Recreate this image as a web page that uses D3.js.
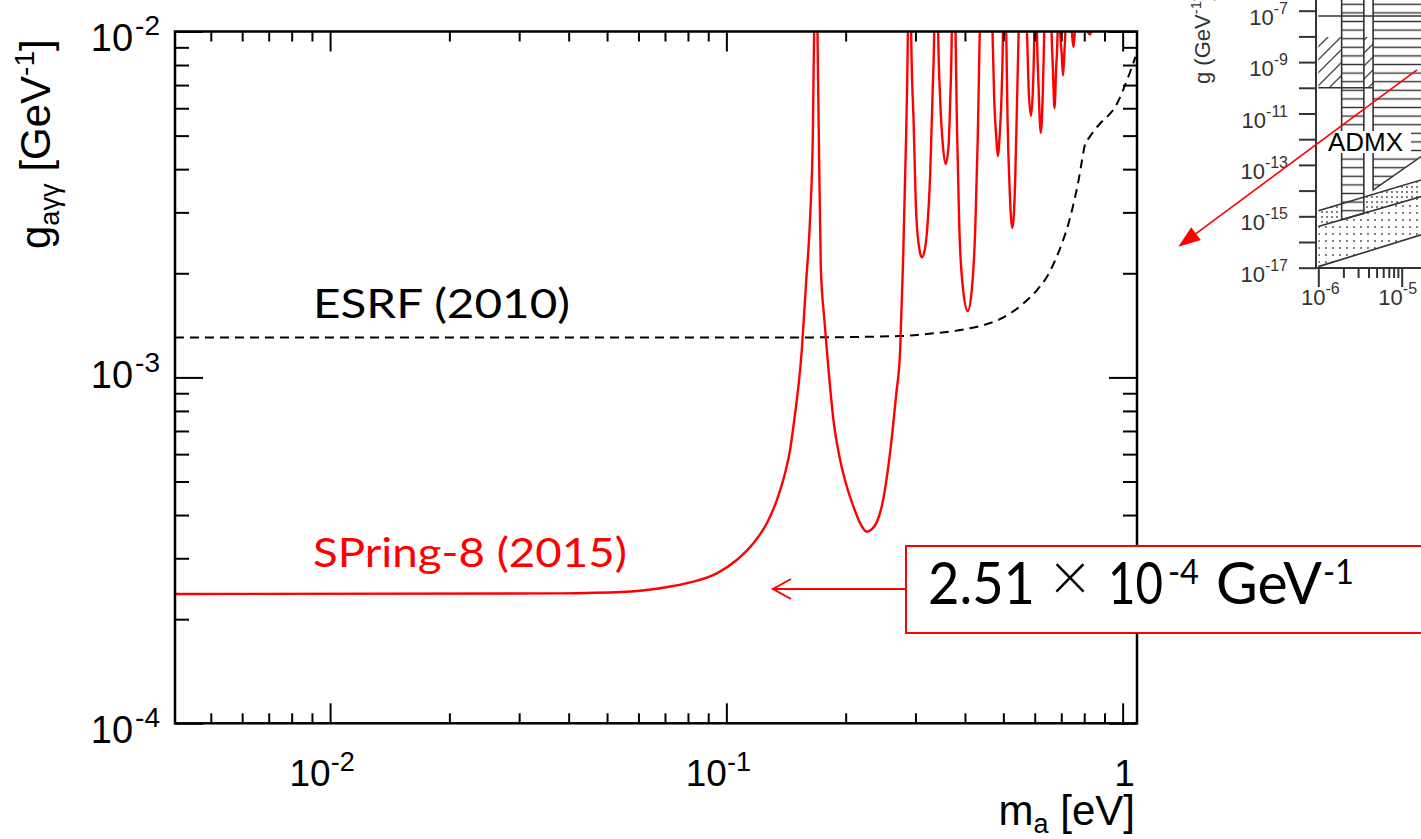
<!DOCTYPE html>
<html><head><meta charset="utf-8">
<script src="https://cdn.jsdelivr.net/npm/d3@7"></script>
<style>body{margin:0;background:#fff}svg{display:block}</style>
</head><body>
<svg id="c" width="1421" height="839"></svg>
<script>
// ---------------- data ----------------
const springMass = [0.00406,0.0380,0.0560,0.0680,0.0825,0.0946,0.1062,0.1170,0.1265,0.1341,0.1406,0.1448,0.1476,0.1550,0.1589,0.1627,0.1653,0.1665,0.1682,0.1698,0.1711,0.1731,0.1765,0.1793,0.1863,0.1937,0.2014,0.2093,0.2176,0.2262,0.2329,0.2398,0.2468,0.2541,0.2616,0.2682,0.2745,0.2789,0.2843,0.2871,0.2901,0.2926,0.2970,0.3013,0.3072,0.3114,0.3166,0.3222,0.3268,0.3316,0.3345,0.3384,0.3424,0.3464,0.3520,0.3577,0.3636,0.3672,0.3705,0.3743,0.3787,0.3818,0.3869,0.3954,0.4065,0.4166,0.4246,0.4308,0.4359,0.4527,0.4695,0.4742,0.4798,0.4840,0.4891,0.4955,0.4989,0.5036,0.5085,0.5124,0.5184,0.5266,0.5350,0.5413,0.5464,0.5598,0.5736,0.5789,0.5871,0.5939,0.5984,0.6030,0.6079,0.6136,0.6214,0.6294,0.6342,0.6479,0.6616,0.6670,0.6730,0.6792,0.6852,0.6908,0.6960,0.7015,0.7071,0.7126,0.7167,0.7305,0.7450,0.7516,0.7573,0.7865,0.8193,0.8274,0.8313,1.09];
const springG = [2.364e-4,2.375e-4,2.40e-4,2.457e-4,2.567e-4,2.714e-4,2.965e-4,3.314e-4,3.787e-4,4.42e-4,5.28e-4,6.17e-4,7.20e-4,1.200e-3,1.875e-3,2.909e-3,5.09e-3,9.95e-3,5e-2,9.95e-3,5.09e-3,2.085e-3,1.495e-3,1.200e-3,7.53e-4,5.77e-4,4.83e-4,4.23e-4,3.787e-4,3.58e-4,3.64e-4,3.82e-4,4.25e-4,5.15e-4,6.72e-4,8.89e-4,1.200e-3,2.085e-3,5.09e-3,9.95e-3,5e-2,9.95e-3,5.37e-3,2.987e-3,2.335e-3,2.225e-3,2.335e-3,2.813e-3,3.846e-3,6.77e-3,9.95e-3,5e-2,9.95e-3,6.34e-3,4.667e-3,4.14e-3,4.667e-3,6.34e-3,9.95e-3,5e-2,9.95e-3,5.37e-3,2.757e-3,1.813e-3,1.556e-3,1.813e-3,2.667e-3,4.856e-3,9.95e-3,5e-2,9.95e-3,6.34e-3,4.955e-3,4.366e-3,4.955e-3,6.91e-3,9.95e-3,5e-2,9.95e-3,5.55e-3,3.552e-3,2.703e-3,3.552e-3,6.21e-3,9.95e-3,5e-2,9.95e-3,6.91e-3,5.70e-3,6.91e-3,9.95e-3,5e-2,9.95e-3,6.91e-3,5.09e-3,6.91e-3,9.95e-3,5e-2,9.95e-3,7.74e-3,6.0e-3,7.74e-3,9.95e-3,5e-2,9.95e-3,8.67e-3,7.46e-3,8.67e-3,9.95e-3,5e-2,9.95e-3,9.02e-3,9.95e-3,5e-2,9.95e-3,9.8e-3,9.95e-3,5e-2];
const esrfMass = [0.00406,0.1535,0.2745,0.3332,0.3892,0.4457,0.4818,0.5203,0.5623,0.6079,0.6442,0.6761,0.7031,0.7305,0.7521,0.7743,0.7900,0.8051,0.8207,0.8783,0.9309,0.9585,0.9867,1.026,1.056,1.077];
const esrfG = [1.305e-3,1.305e-3,1.317e-3,1.341e-3,1.371e-3,1.417e-3,1.460e-3,1.532e-3,1.637e-3,1.789e-3,1.955e-3,2.185e-3,2.442e-3,2.789e-3,3.187e-3,3.72e-3,4.25e-3,4.75e-3,4.91e-3,5.43e-3,5.80e-3,6.06e-3,6.48e-3,7.24e-3,7.91e-3,8.45e-3];
const xDomain = [0.004061, 1.087];
const yDomain = [1e-4, 1e-2];
const xMajorTicks = [0.01, 0.1, 1];
const xTickBase = ["10","10","1"];
const xTickExp = ["-2","-1",""];
const yMajorTicks = [1e-4, 1e-3, 1e-2];
const yTickBase = ["10","10","10"];
const yTickExp = ["-4","-3","-2"];
const seriesNames = ["ESRF (2010)", "SPring-8 (2015)"];
const limitText = ["2.51", "×", "10", "-4", "GeV", "-1"];

// inset (cropped figure) data
const insetXDomain = [1e-6, 1e-5];
const insetYDomain = [1e-17, 1e-7];
const insetYTicks = [1e-17,1e-16,1e-15,1e-14,1e-13,1e-12,1e-11,1e-10,1e-9,1e-8,1e-7];
const insetYLabelExp = ["-17","-15","-13","-11","-9","-7"];
const insetYLabelVal = [1e-17,1e-15,1e-13,1e-11,1e-9,1e-7];
const insetXLabelVal = [1e-6, 1e-5];
const insetXLabelExp = ["-6","-5"];
const admxBand = [[1.905e-6,1e-6],[3.516e-6,1e-6],[3.516e-6,1.306e-15],[1.905e-6,7.33e-16]];
const band2 = [[4.54e-6,1e-6],[2e-5,1e-6],[2e-5,3.02e-13],[4.54e-6,1.05e-14]];
const diagBox1 = [[1e-6,9.5e-9],[1.905e-6,9.5e-9],[1.905e-6,1e-10],[1e-6,1e-10]];
const diagBox2 = [[3.516e-6,9.5e-9],[4.54e-6,9.5e-9],[4.54e-6,1e-10],[3.516e-6,1e-10]];
const lineA = [[1e-6,1.66e-15],[2e-5,3.03e-14]];
const lineB = [[1e-6,3.98e-16],[2e-5,6.76e-15]];
const lineC = [[1e-6,1.10e-17],[2e-5,2.21e-16]];
const topLine = [[1e-6,6.2e-8],[2e-5,6.2e-8]];
const midLine = [[1e-6,1e-10],[4.54e-6,1e-10]];

// ---------------- drawing ----------------
const svg = d3.select("#c");
svg.append("rect").attr("width",1421).attr("height",839).attr("fill","#fff");
const L=175, R=1137, T=31.5, B=723.3;
const x = d3.scaleLog().domain(xDomain).range([L,R]);
const y = d3.scaleLog().domain(yDomain).range([B,T]);
const AX = "'Liberation Sans', Arial, Helvetica, sans-serif";
const CAL = "Lato, 'Open Sans', sans-serif";

const defs = svg.append("defs");
defs.append("clipPath").attr("id","pc").append("rect").attr("x",L).attr("y",T).attr("width",R-L).attr("height",B-T);

// curves
const line = d3.line().x(d=>x(d[0])).y(d=>y(d[1])).curve(d3.curveMonotoneX);
svg.append("path").datum(d3.zip(esrfMass,esrfG)).attr("d",line)
  .attr("fill","none").attr("stroke","#000").attr("stroke-width",2).attr("stroke-dasharray","9,6")
  .attr("clip-path","url(#pc)");
svg.append("path").datum(d3.zip(springMass,springG)).attr("d",line)
  .attr("fill","none").attr("stroke","#ff0000").attr("stroke-width",2.4).attr("stroke-linejoin","round")
  .attr("clip-path","url(#pc)");

// ticks
const isMajor = (v, arr) => arr.some(m => Math.abs(m-v)/m < 1e-6);
const minX = x.ticks().filter(v => !isMajor(v, xMajorTicks));
const minY = y.ticks().filter(v => !isMajor(v, yMajorTicks));
function tickAxis(gen, tr, vals, size){
  const g = svg.append("g").attr("transform",tr).call(gen.tickValues(vals).tickSize(size).tickFormat(""));
  g.select(".domain").remove();
  g.selectAll(".tick line").attr("stroke","#000").attr("stroke-width",2);
}
tickAxis(d3.axisTop(x), `translate(0,${B})`, minX, 10);
tickAxis(d3.axisTop(x), `translate(0,${B})`, xMajorTicks, 20);
tickAxis(d3.axisBottom(x), `translate(0,${T})`, minX, 10);
tickAxis(d3.axisBottom(x), `translate(0,${T})`, xMajorTicks, 20);
tickAxis(d3.axisRight(y), `translate(${L},0)`, minY, 14);
tickAxis(d3.axisRight(y), `translate(${L},0)`, yMajorTicks, 28);
tickAxis(d3.axisLeft(y), `translate(${R},0)`, minY, 14);
tickAxis(d3.axisLeft(y), `translate(${R},0)`, yMajorTicks, 28);
svg.append("rect").attr("x",L).attr("y",T).attr("width",R-L).attr("height",B-T)
  .attr("fill","none").attr("stroke","#000").attr("stroke-width",2.5);

// tick labels
const yLabelDy = [20, 11, 19];
yMajorTicks.forEach((v,i)=>{
  const t = svg.append("text").attr("x",160).attr("y",y(v)+yLabelDy[i])
    .attr("text-anchor","end").attr("font-family",AX).attr("font-size",38).attr("fill","#000");
  t.append("tspan").text(yTickBase[i]);
  t.append("tspan").attr("font-size",28).attr("dy",-16).attr("dx",2).text(yTickExp[i]);
});
xMajorTicks.forEach((v,i)=>{
  const t = svg.append("text").attr("x",x(v)+(xTickExp[i]?-8:2)).attr("y",786)
    .attr("text-anchor","middle").attr("font-family",AX).attr("font-size",37).attr("fill","#000");
  t.append("tspan").text(xTickBase[i]);
  if (xTickExp[i]) t.append("tspan").attr("font-size",27).attr("dy",-15).text(xTickExp[i]);
});

// axis titles
const yt = svg.append("text").attr("transform","translate(50,249) rotate(-90)")
  .attr("font-family",AX).attr("font-size",42).attr("fill","#000");
yt.append("tspan").text("g");
yt.append("tspan").attr("font-size",27).attr("dy",9).text("aγγ");
yt.append("tspan").attr("dy",-9).attr("dx",12).text("[GeV");
yt.append("tspan").attr("font-size",28).attr("dy",-16).text("-1");
yt.append("tspan").attr("dy",16).text("]");

const xt = svg.append("text").attr("x",1135).attr("y",825).attr("text-anchor","end")
  .attr("font-family",AX).attr("font-size",42).attr("fill","#000");
xt.append("tspan").text("m");
xt.append("tspan").attr("font-size",27).attr("dy",8).text("a");
xt.append("tspan").attr("dy",-8).text(" [eV]");

// series labels
svg.append("text").attr("x",313).attr("y",318).attr("font-family",CAL).attr("font-size",41)
  .attr("textLength",257).attr("lengthAdjust","spacingAndGlyphs").attr("fill","#000").text(seriesNames[0]);
svg.append("text").attr("x",313).attr("y",567).attr("font-family",CAL).attr("font-size",41)
  .attr("textLength",314).attr("lengthAdjust","spacingAndGlyphs").attr("fill","#ff0000").text(seriesNames[1]);

// annotation arrow + box
const ay = 589;
svg.append("line").attr("x1",906).attr("x2",773).attr("y1",ay).attr("y2",ay).attr("stroke","#ff0000").attr("stroke-width",2);
svg.append("polyline").attr("points",`791,${ay-10} 773,${ay} 791,${ay+10}`).attr("fill","none").attr("stroke","#ff0000").attr("stroke-width",2);
svg.append("rect").attr("x",906).attr("y",546).attr("width",600).attr("height",87)
  .attr("fill","#fff").attr("stroke","#ff0000").attr("stroke-width",2);
const boxParts = [
  {x:928, y:604, fs:58, len:107, w:400},
  {x:1070, y:601, fs:68, len:null, w:300, anchor:"middle"},
  {x:1108, y:604, fs:58, len:55, w:400},
  {x:1168, y:584, fs:34, len:31, w:400},
  {x:1216, y:604, fs:58, len:106, w:400},
  {x:1323, y:584, fs:34, len:31, w:400}
];
boxParts.forEach((p,i)=>{
  const t = svg.append("text").attr("x",p.x).attr("y",p.y).attr("font-family",CAL)
    .attr("font-size",p.fs).attr("font-weight",p.w).attr("fill","#000")
    .attr("text-anchor",p.anchor||"start").text(limitText[i]);
  if (p.len) t.attr("textLength",p.len).attr("lengthAdjust","spacingAndGlyphs");
});

// ---------------- inset (cropped figure) ----------------
const ix = d3.scaleLog().domain(insetXDomain).range([1318.3,1401.7]);
const iy = d3.scaleLog().domain(insetYDomain).range([267.7,10.7]);
defs.append("clipPath").attr("id","ic").append("rect").attr("x",1316).attr("y",0).attr("width",110).attr("height",268);
const ph = defs.append("pattern").attr("id","hl").attr("patternUnits","userSpaceOnUse").attr("width",10).attr("height",8.6);
ph.append("line").attr("x1",0).attr("x2",10).attr("y1",4.3).attr("y2",4.3).attr("stroke","#333").attr("stroke-width",1.4);
const pd = defs.append("pattern").attr("id","dg").attr("patternUnits","userSpaceOnUse").attr("width",13).attr("height",13);
pd.append("path").attr("d","M0,13 L13,0 M-3,3 L3,-3 M10,16 L16,10").attr("stroke","#444").attr("stroke-width",1.3);
const p1 = defs.append("pattern").attr("id","dt1").attr("patternUnits","userSpaceOnUse").attr("width",5).attr("height",5);
p1.append("circle").attr("cx",2).attr("cy",2).attr("r",0.9).attr("fill","#444");
const p2 = defs.append("pattern").attr("id","dt2").attr("patternUnits","userSpaceOnUse").attr("width",7).attr("height",7);
p2.append("circle").attr("cx",3).attr("cy",3).attr("r",0.9).attr("fill","#444");

const ig = svg.append("g").attr("clip-path","url(#ic)");
const pline = d3.line().x(d=>ix(d[0])).y(d=>iy(d[1]));
ig.append("path").attr("d",pline([lineA[0],lineA[1],lineB[1],lineB[0]])+"Z").attr("fill","url(#dt1)");
ig.append("path").attr("d",pline([lineB[0],lineB[1],lineC[1],lineC[0]])+"Z").attr("fill","url(#dt2)");
[diagBox1, diagBox2].forEach(p=>ig.append("path").attr("d",pline(p)+"Z").attr("fill","url(#dg)"));
[admxBand, band2].forEach(p=>ig.append("path").attr("d",pline(p)+"Z").attr("fill","#fff"));
[admxBand, band2].forEach(p=>ig.append("path").attr("d",pline(p)+"Z").attr("fill","url(#hl)").attr("stroke","#333").attr("stroke-width",1.6));
[lineA, lineB, lineC, topLine, midLine].forEach(p=>ig.append("path").attr("d",pline(p)).attr("fill","none").attr("stroke","#333").attr("stroke-width",1.6));
svg.append("rect").attr("x",1327).attr("y",131).attr("width",84).attr("height",22).attr("fill","#fff");
svg.append("text").attr("x",1328).attr("y",151).attr("font-family",AX).attr("font-size",26).attr("fill","#000").text("ADMX");

// inset axes
svg.append("line").attr("x1",1316).attr("x2",1316).attr("y1",0).attr("y2",268.5).attr("stroke","#333").attr("stroke-width",2);
svg.append("line").attr("x1",1315).attr("x2",1421).attr("y1",268).attr("y2",268).attr("stroke","#333").attr("stroke-width",2);
const iyAx = svg.append("g").attr("transform","translate(1316,0)")
  .call(d3.axisLeft(iy).tickValues(insetYTicks).tickSize(17).tickFormat(""));
iyAx.select(".domain").remove();
iyAx.selectAll(".tick line").attr("stroke","#333").attr("stroke-width",2);
const ixMinor = d3.range(2,10).map(k=>k*1e-6);
const ixMaj = svg.append("g").attr("transform","translate(0,268)")
  .call(d3.axisBottom(ix).tickValues([1e-6,1e-5]).tickSize(19).tickFormat(""));
ixMaj.select(".domain").remove();
ixMaj.selectAll(".tick line").attr("stroke","#333").attr("stroke-width",2);
const ixMin = svg.append("g").attr("transform","translate(0,268)")
  .call(d3.axisBottom(ix).tickValues(ixMinor).tickSize(10).tickFormat(""));
ixMin.select(".domain").remove();
ixMin.selectAll(".tick line").attr("stroke","#333").attr("stroke-width",2);

insetYLabelVal.forEach((v,i)=>{
  const t = svg.append("text").attr("x",1288).attr("y",iy(v)+14).attr("text-anchor","end")
    .attr("font-family",AX).attr("font-size",22).attr("fill","#333");
  t.append("tspan").text("10");
  t.append("tspan").attr("font-size",16).attr("dy",-11).text(insetYLabelExp[i]);
});
const ixLabelShift = [2, -4];
insetXLabelVal.forEach((v,i)=>{
  const t = svg.append("text").attr("x",ix(v)+ixLabelShift[i]).attr("y",305).attr("text-anchor","middle")
    .attr("font-family",AX).attr("font-size",22).attr("fill","#333");
  t.append("tspan").text("10");
  t.append("tspan").attr("font-size",16).attr("dy",-11).text(insetXLabelExp[i]);
});
const igt = svg.append("text").attr("transform","translate(1210,84) rotate(-90)")
  .attr("font-family",AX).attr("font-size",22).attr("fill","#333");
igt.append("tspan").text("g (GeV");
igt.append("tspan").attr("font-size",15).attr("dy",-9).text("-1");
igt.append("tspan").attr("dy",9).text(")");

// red pointer arrow from inset
const p0 = [1421,67], pt = [1178.3,246.7];
const dx = pt[0]-p0[0], dy = pt[1]-p0[1], len = Math.hypot(dx,dy), ux = dx/len, uy = dy/len;
const hb = [pt[0]-22*ux, pt[1]-22*uy];
svg.append("line").attr("x1",p0[0]+5*ux).attr("y1",p0[1]+5*uy).attr("x2",hb[0]).attr("y2",hb[1]).attr("stroke","#ff0000").attr("stroke-width",1.6);
svg.append("polygon").attr("points",`${pt[0]},${pt[1]} ${hb[0]+8*(-uy)},${hb[1]+8*ux} ${hb[0]-8*(-uy)},${hb[1]-8*ux}`).attr("fill","#ff0000");
</script>
</body></html>
